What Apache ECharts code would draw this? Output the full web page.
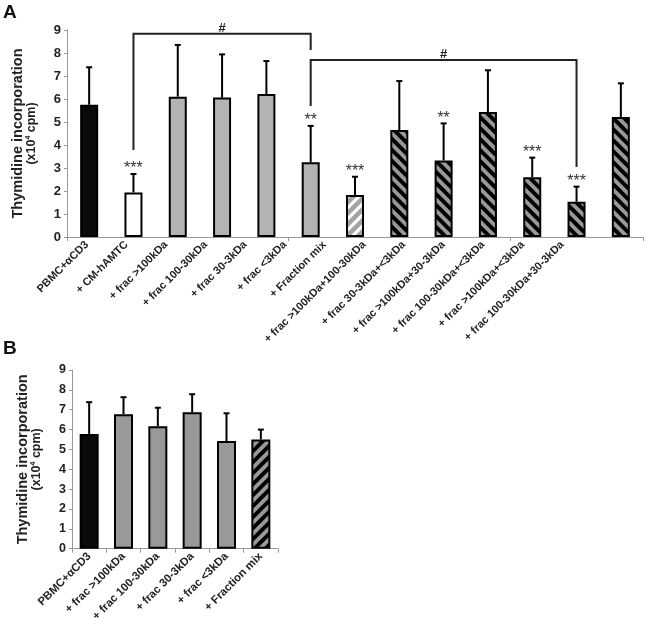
<!DOCTYPE html>
<html>
<head>
<meta charset="utf-8">
<script src="https://cdn.jsdelivr.net/npm/echarts@6/dist/echarts.min.js"></script>
<style>html,body{margin:0;padding:0;background:#fff}#c{width:648px;height:624px}</style>
</head>
<body>
<div id="c"></div>
<script>
// ---------- Data ----------
const catsA = ['PBMC+αCD3', '+ CM-hAMTC', '+ frac >100kDa', '+ frac 100-30kDa', '+ frac 30-3kDa', '+ frac <3kDa', '+ Fraction mix', '+ frac >100kDa+100-30kDa', '+ frac 30-3kDa+<3kDa', '+ frac >100kDa+30-3kDa', '+ frac 100-30kDa+<3kDa', '+ frac >100kDa+<3kDa', '+ frac 100-30kDa+30-3kDa'];
const valsA = [5.75, 1.94, 6.10, 6.06, 6.22, 3.25, 1.83, 4.65, 3.33, 5.43, 2.60, 1.53, 5.22];
const errA  = [1.63, 0.80, 2.25, 1.88, 1.43, 1.58, 0.79, 2.13, 1.61, 1.82, 0.85, 0.66, 1.46];
const starsA = ['', '***', '', '', '', '**', '***', '', '**', '', '***', '***', ''];
// brackets: [fromCat, toCat, level, leftLegEnd, rightLegEnd]
const bracketsA = [[1, 5, 8.84, 3.78, 8.13], [5, 11, 7.70, 5.70, 3.04]];
const bracketTextA = ['#', '#'];

const catsB = ['PBMC+αCD3', '+ frac >100kDa', '+ frac 100-30kDa', '+ frac 30-3kDa', '+ frac <3kDa', '+ Fraction mix'];
const valsB = [5.78, 6.77, 6.17, 6.87, 5.42, 5.50];
const errB  = [1.60, 0.86, 0.93, 0.91, 1.40, 0.50];

const yTicks = [0, 9, 1]; // min, max, interval

// ---------- Styles ----------
const FONT = 'Arial, "Liberation Sans", sans-serif';
function stripes(bg, fg, dir, size, lw) {
  const c = document.createElement('canvas');
  c.width = size; c.height = size;
  const g = c.getContext('2d');
  g.fillStyle = bg; g.fillRect(0, 0, size, size);
  g.strokeStyle = fg; g.lineWidth = lw; g.lineCap = 'square';
  for (let k = -1; k <= 2; k++) {
    g.beginPath();
    if (dir === '\\') { g.moveTo(-2, -2 + size * k); g.lineTo(size + 2, size + 2 + size * k); }
    else { g.moveTo(-2, size * k + 2); g.lineTo(size + 2, size * k - size - 2); }
    g.stroke();
  }
  return { image: c, repeat: 'repeat' };
}
const patMix = stripes('#ffffff', '#a3a3a3', '/', 11, 4.5);
const patHatch = stripes('#999999', '#000000', '\\', 11, 4);
const patMixB = stripes('#999999', '#000000', '/', 11, 4);

function fillA(i) {
  if (i === 0) return '#0a0a0a';
  if (i === 1) return '#ffffff';
  if (i <= 5) return '#b3b3b3';
  if (i === 6) return patMix;
  return patHatch;
}
function fillB(i) {
  if (i === 0) return '#0a0a0a';
  if (i <= 4) return '#999999';
  return patMixB;
}

function errRender(stars) {
  return function (params, api) {
    const x = api.value(0), v = api.value(1), e = api.value(2);
    const p0 = api.coord([x, v]), p1 = api.coord([x, v + e]);
    const ch = [
      { type: 'line', shape: { x1: p0[0], y1: p0[1], x2: p1[0], y2: p1[1] }, style: { stroke: '#000', lineWidth: 2 } },
      { type: 'line', shape: { x1: p1[0] - 3, y1: p1[1], x2: p1[0] + 3, y2: p1[1] }, style: { stroke: '#000', lineWidth: 2 } }
    ];
    const s = stars ? stars[params.dataIndex] : '';
    if (s) ch.push({ type: 'text', x: p1[0], y: p1[1] + 3, style: { text: s, align: 'center', verticalAlign: 'bottom', font: '16px ' + FONT, fill: '#333' } });
    return { type: 'group', children: ch };
  };
}
function bracketRender(params, api) {
  const a = api.value(0), b = api.value(1), lv = api.value(2), l = api.value(3), r = api.value(4);
  const pL = api.coord([a, lv]), pR = api.coord([b, lv]);
  const lB = api.coord([a, l]), rB = api.coord([b, r]);
  return {
    type: 'group', children: [
      { type: 'polyline', shape: { points: [[lB[0], lB[1]], [pL[0], pL[1]], [pR[0], pR[1]], [rB[0], rB[1]]] }, style: { stroke: '#222', lineWidth: 2, fill: null } },
      { type: 'text', x: (pL[0] + pR[0]) / 2, y: pL[1] + 1, style: { text: bracketTextA[params.dataIndex], align: 'center', verticalAlign: 'bottom', font: 'bold 13px ' + FONT, fill: '#222' } }
    ]
  };
}

const axisLineStyle = { lineStyle: { color: '#999', width: 1 } };
function yAxisCfg(gridIndex, labelSize) {
  return {
    type: 'value', gridIndex, min: yTicks[0], max: yTicks[1], interval: yTicks[2],
    axisLine: Object.assign({ show: true }, axisLineStyle),
    axisTick: { show: true, length: 3, lineStyle: { color: '#999' } },
    splitLine: { show: false },
    axisLabel: { fontSize: labelSize, fontWeight: 'bold', color: '#222', fontFamily: FONT, margin: 6 },
    name: '{a|Thymidine incorporation}\n{b|(x10}{s|4}{b| cpm)}',
    nameLocation: 'middle', nameRotate: 90, nameGap: 29,
    nameTextStyle: {
      rich: {
        a: { fontSize: 14.5, fontWeight: 'bold', color: '#222', fontFamily: FONT, lineHeight: 14 },
        b: { fontSize: 12.5, fontWeight: 'bold', color: '#222', fontFamily: FONT, lineHeight: 13 },
        s: { fontSize: 7, fontWeight: 'bold', color: '#222', fontFamily: FONT, verticalAlign: 'top', lineHeight: 13 }
      }
    }
  };
}

const option = {
  animation: false,
  backgroundColor: '#fff',
  title: [
    { text: 'A', left: 3, top: 3, padding: 0, textStyle: { fontSize: 19, fontWeight: 'bold', color: '#111', fontFamily: FONT } },
    { text: 'B', left: 3, top: 339, padding: 0, textStyle: { fontSize: 19, fontWeight: 'bold', color: '#111', fontFamily: FONT } }
  ],
  grid: [
    { left: 67, top: 30, width: 576, height: 207 },
    { left: 67, top: 30, width: 515, height: 207 },
    { left: 72, top: 370, width: 206, height: 180 }
  ],
  xAxis: [
    { type: 'category', gridIndex: 0, data: catsA, axisLine: axisLineStyle, axisTick: { show: true, length: 4, lineStyle: { color: '#999' } }, axisLabel: { show: false } },
    { type: 'category', gridIndex: 1, data: catsA, axisLine: { show: false }, axisTick: { show: false },
      axisLabel: { interval: 0, rotate: 45, fontSize: 11, fontWeight: 'bold', color: '#222', fontFamily: FONT, margin: 6 } },
    { type: 'category', gridIndex: 2, data: catsB, axisLine: axisLineStyle, axisTick: { show: true, length: 4, lineStyle: { color: '#999' } },
      axisLabel: { interval: 0, rotate: 45, fontSize: 11.3, fontWeight: 'bold', color: '#222', fontFamily: FONT, margin: 6 } }
  ],
  yAxis: [
    yAxisCfg(0, 13),
    { type: 'value', gridIndex: 1, min: yTicks[0], max: yTicks[1], show: false },
    yAxisCfg(2, 12.5)
  ],
  series: [
    { type: 'bar', xAxisIndex: 0, yAxisIndex: 0, barWidth: 18,
      data: valsA.map((v, i) => ({ value: v, itemStyle: { color: fillA(i), borderColor: '#000', borderWidth: 2 } })) },
    { type: 'custom', xAxisIndex: 0, yAxisIndex: 0, renderItem: errRender(starsA), z: 5,
      data: valsA.map((v, i) => [i, v, errA[i]]) },
    { type: 'custom', xAxisIndex: 0, yAxisIndex: 0, renderItem: bracketRender, z: 6, clip: false,
      data: bracketsA },
    { type: 'bar', xAxisIndex: 2, yAxisIndex: 2, barWidth: 19,
      data: valsB.map((v, i) => ({ value: v, itemStyle: { color: fillB(i), borderColor: '#000', borderWidth: 2 } })) },
    { type: 'custom', xAxisIndex: 2, yAxisIndex: 2, renderItem: errRender(null), z: 5,
      data: valsB.map((v, i) => [i, v, errB[i]]) }
  ]
};
const chart = echarts.init(document.getElementById('c'), null, { renderer: 'canvas' });
chart.setOption(option);
</script>
</body>
</html>
